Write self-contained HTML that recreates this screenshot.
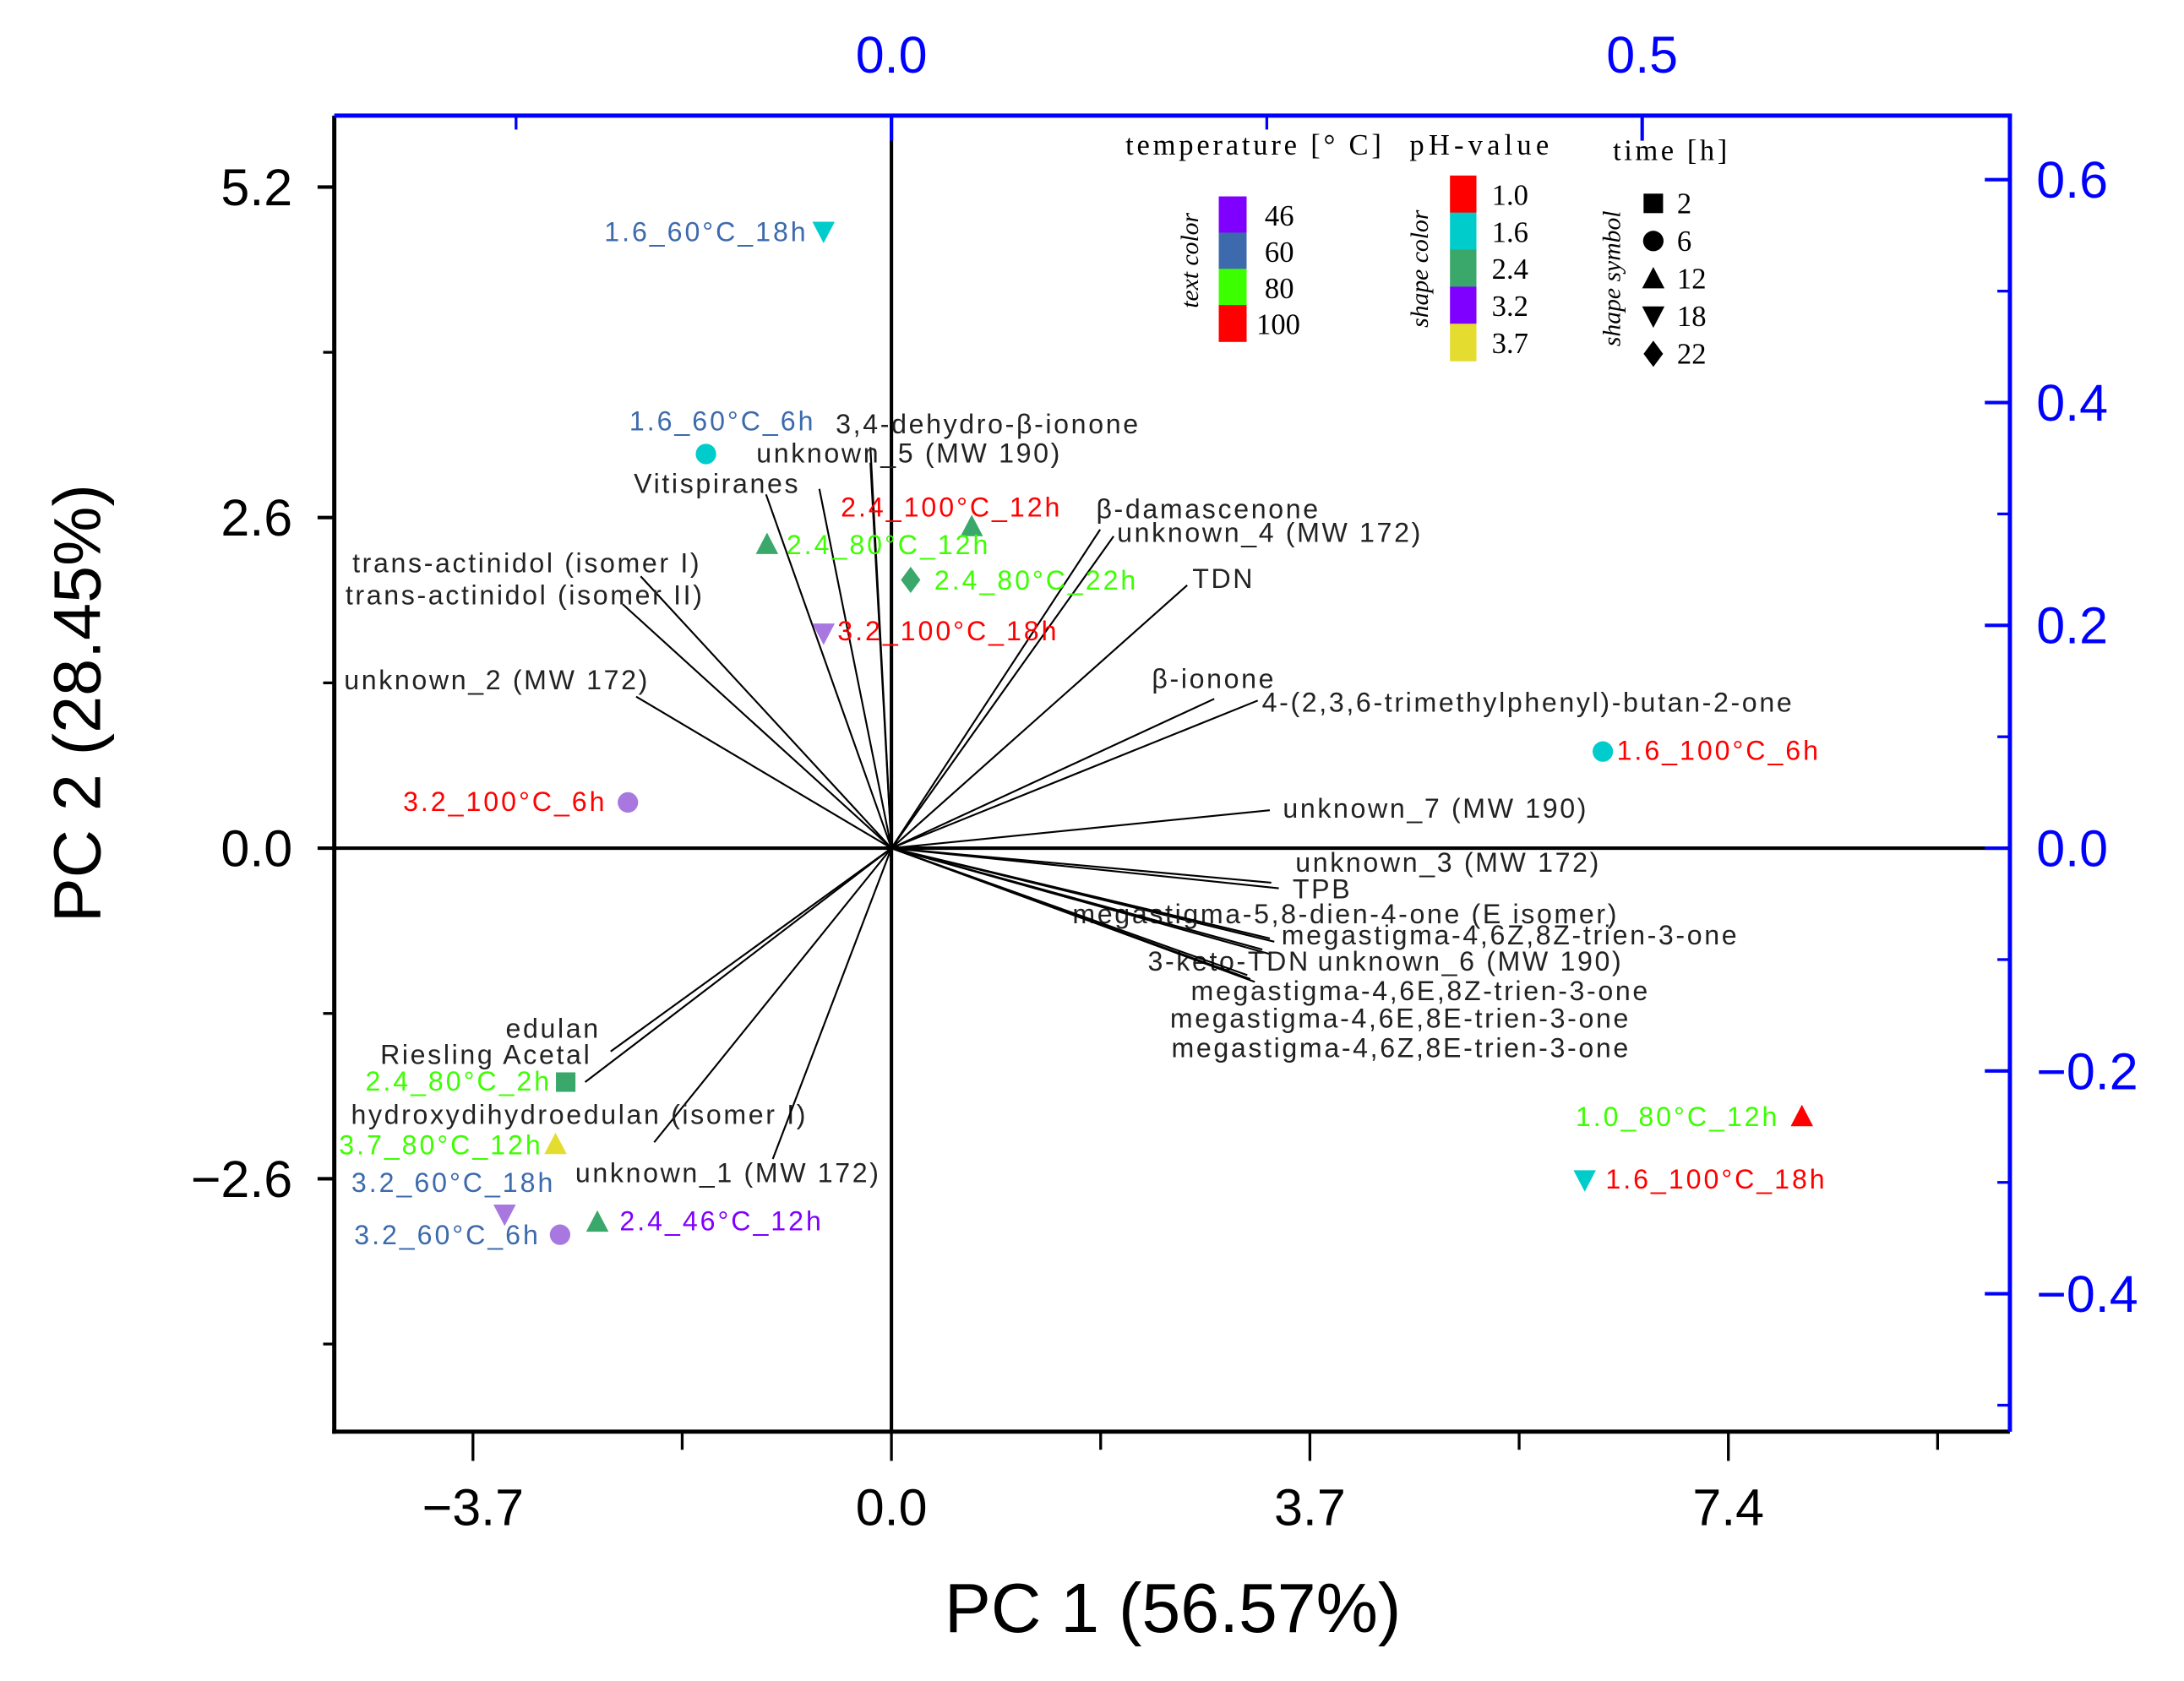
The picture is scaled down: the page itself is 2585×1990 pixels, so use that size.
<!DOCTYPE html>
<html><head><meta charset="utf-8"><style>
html,body{margin:0;padding:0;background:#fff;}
svg{display:block;}
text{font-family:"Liberation Sans",Arial,sans-serif;}
.ser{font-family:"Liberation Serif",serif;}
</style></head><body>
<svg id="chart" width="2585" height="1990" viewBox="0 0 1568 1207" xmlns="http://www.w3.org/2000/svg">
<rect x="0" y="0" width="1568" height="1207" fill="#fff"/>
<g id="grid"></g>
<g id="loads"></g>
<g id="scores"></g>
<g id="axes"></g>
<g id="legend">
  <text class="ser" x="808" y="111" font-size="21" letter-spacing="0.3" textLength="184">temperature [° C]</text>
  <text class="ser" x="1012" y="111" font-size="21" textLength="100">pH-value</text>
  <text class="ser" x="1158" y="115" font-size="21" textLength="82">time [h]</text>
  <text class="ser" transform="translate(860,187) rotate(-90)" text-anchor="middle" font-size="18" font-style="italic">text color</text>
  <text class="ser" transform="translate(1025,193) rotate(-90)" text-anchor="middle" font-size="18" font-style="italic">shape color</text>
  <text class="ser" transform="translate(1163,200) rotate(-90)" text-anchor="middle" font-size="18" font-style="italic">shape symbol</text>
</g>
</svg>
<script>
// ---- data ----
const scoreNames = ["1.6_60°C_18h","1.6_60°C_6h","2.4_100°C_12h","2.4_80°C_12h","2.4_80°C_22h","3.2_100°C_18h","1.6_100°C_6h","3.2_100°C_6h","2.4_80°C_2h","3.7_80°C_12h","1.0_80°C_12h","1.6_100°C_18h","3.2_60°C_18h","3.2_60°C_6h","2.4_46°C_12h"];
const scorePC1 = [-0.60,-1.64,0.71,-1.10,0.17,-0.60,6.29,-2.33,-2.88,-2.97,8.05,6.13,-3.42,-2.93,-2.60];
const scorePC2 = [4.85,3.10,2.53,2.39,2.11,1.69,0.76,0.36,-1.84,-2.33,-2.11,-2.61,-2.88,-3.04,-2.94];
const scorePH = [1.6,1.6,2.4,2.4,2.4,3.2,1.6,3.2,2.4,3.7,1.0,1.6,3.2,3.2,2.4];
const scoreTemp = [60,60,100,80,80,100,100,100,80,80,80,100,60,60,46];
const scoreTime = [18,6,12,12,22,18,6,6,2,12,12,18,18,6,12];

const loadNames = ["3,4-dehydro-β-ionone","unknown_5 (MW 190)","","Vitispiranes","trans-actinidol (isomer I)","trans-actinidol (isomer II)","unknown_2 (MW 172)","β-damascenone","unknown_4 (MW 172)","TDN","β-ionone","4-(2,3,6-trimethylphenyl)-butan-2-one","unknown_7 (MW 190)","unknown_3 (MW 172)","TPB","megastigma-5,8-dien-4-one (E isomer)","megastigma-4,6Z,8Z-trien-3-one","unknown_6 (MW 190)","3-keto-TDN","megastigma-4,6E,8Z-trien-3-one","megastigma-4,6E,8E-trien-3-one","megastigma-4,6Z,8E-trien-3-one","edulan","Riesling Acetal","hydroxydihydroedulan (isomer I)","unknown_1 (MW 172)"];
const loadPC1 = [-0.014,-0.014,-0.048,-0.0835,-0.167,-0.179,-0.170,0.139,0.148,0.197,0.215,0.244,0.252,0.253,0.258,0.255,0.252,0.252,0.247,0.242,0.237,0.239,-0.187,-0.204,-0.158,-0.079];
const loadPC2 = [0.36,0.346,0.3225,0.3175,0.244,0.219,0.136,0.286,0.280,0.236,0.134,0.1325,0.034,-0.031,-0.036,-0.084,-0.081,-0.095,-0.091,-0.12,-0.114,-0.1175,-0.1825,-0.21,-0.264,-0.279];

const xTicks = [-3.7,0.0,3.7,7.4];
const yTicks = [-2.6,0.0,2.6,5.2];
const topTicks = [0.0,0.5];
const rightTicks = [-0.4,-0.2,0.0,0.2,0.4,0.6];
const tempVals = [46,60,80,100];
const phVals = [1.0,1.6,2.4,3.2,3.7];
const timeVals = [2,6,12,18,22];

// ---- styles/layout ----
const tempColor = {46:"#8000ff",60:"#3d6aad",80:"#3cff00",100:"#ff0000"};
const phColor = {"1":"#ff0000","1.6":"#00cccc","2.4":"#3aa86a","3.2":"#a878e0","3.7":"#e5dc30"};
const phLegColor = {"1":"#ff0000","1.6":"#00cccc","2.4":"#3aa86a","3.2":"#8000ff","3.7":"#e5dc30"};
const timeShape = {2:"square",6:"circle",12:"tri",18:"itri",22:"diamond"};
// label offsets [dx,dy,anchor]
const scoreLab = [[-11,7,"end"],[-55,-17,"start"],[-94,-7,"start"],[14,7,"start"],[17,7,"start"],[10,5,"start"],[10,6,"start"],[-15,6,"end"],[-10,6,"end"],[-9,7,"end"],[-16,7,"end"],[15,6,"start"],[-110,-16,"start"],[-14,7,"end"],[16,6,"start"]];
const loadLab = [[600,311,"start"],[543,332,"start"],null,[455,354,"start"],[253,411,"start"],[248,434,"start"],[247,495,"start"],[787,372,"start"],[802,389,"start"],[856,422,"start"],[827,494,"start"],[906,511,"start"],[921,587,"start"],[930,626,"start"],[928,645,"start"],[770,663,"start"],[920,678,"start"],[946,697,"start"],[824,697,"start"],[855,718,"start"],[840,738,"start"],[841,759,"start"],[363,745,"start"],[273,764,"start"],[252,807,"start"],[413,849,"start"]];

const L=240,R=1443,T=83,B=1028;
const X0=640, Y0=609;
const sx = v => X0 + v*81.2;
const sy = v => Y0 - v*91.3;
const lx = v => X0 + v*1078;
const ly = v => Y0 - v*800;
const NS="http://www.w3.org/2000/svg";
function mk(tag, attrs, parent){const e=document.createElementNS(NS,tag);for(const k in attrs)e.setAttribute(k,attrs[k]);parent.appendChild(e);return e;}
const gAx=document.getElementById('axes'), gL=document.getElementById('loads'), gS=document.getElementById('scores'), gLeg=document.getElementById('legend'), gG=document.getElementById('grid');

let e=mk('line',{x1:L,x2:R,y1:Y0,y2:Y0,stroke:'#000','stroke-width':2.5},gG);


e=mk('line',{x1:X0,x2:X0,y1:T,y2:B,stroke:'#000','stroke-width':2.5},gG);



e=mk('line',{x1:L,x2:L,y1:T,y2:B+1.5,stroke:'#000','stroke-width':3},gAx);


e=mk('line',{x1:L-1.5,x2:R,y1:B,y2:B,stroke:'#000','stroke-width':3},gAx);


e=mk('line',{x1:L,x2:R+1.5,y1:T,y2:T,stroke:'#0000ff','stroke-width':3},gAx);


e=mk('line',{x1:R,x2:R,y1:T,y2:B,stroke:'#0000ff','stroke-width':3},gAx);



xTicks.forEach(v=>{
  const x=sx(v);
  let t=mk('line',{x1:x,x2:x,y1:B,y2:B+21,stroke:'#000','stroke-width':2},gAx);
  
  
  t=mk('text',{x:x,y:1095,'font-size':37,'text-anchor':'middle'},gAx);
  t.textContent=(v<0?'\u2212':'')+Math.abs(v).toFixed(1);
  
  
  const m=sx(v+1.85);
  if(m<R){t=mk('line',{x1:m,x2:m,y1:B,y2:B+13,stroke:'#000','stroke-width':2},gAx);
  
  }
});
yTicks.forEach(v=>{
  const y=sy(v);
  let t=mk('line',{x1:L-12,x2:L,y1:y,y2:y,stroke:'#000','stroke-width':2.5},gAx);
  
  
  t=mk('text',{x:210,y:y+13,'font-size':37,'text-anchor':'end'},gAx);
  t.textContent=(v<0?'\u2212':'')+Math.abs(v).toFixed(1);
  
  
  const m=sy(v-1.3);
  if(m<B){t=mk('line',{x1:L-8,x2:L,y1:m,y2:m,stroke:'#000','stroke-width':2},gAx);
  
  }
});
topTicks.forEach(v=>{
  const x=lx(v);
  let t=mk('line',{x1:x,x2:x,y1:T,y2:T+18,stroke:'#0000ff','stroke-width':2.5},gAx);
  
  
  t=mk('text',{x:x,y:52,'font-size':37,'text-anchor':'middle',fill:'#0000ff'},gAx);
  t.textContent=v.toFixed(1);
  
  
  const m=lx(v-0.25);
  if(m>L){t=mk('line',{x1:m,x2:m,y1:T,y2:T+10,stroke:'#0000ff','stroke-width':2},gAx);
  
  }
});
rightTicks.forEach(v=>{
  const y=ly(v);
  let t=mk('line',{x1:R-18,x2:R,y1:y,y2:y,stroke:'#0000ff','stroke-width':2.5},gAx);
  
  
  t=mk('text',{x:1462,y:y+13,'font-size':37,fill:'#0000ff'},gAx);
  t.textContent=(v<0?'\u2212':'')+Math.abs(v).toFixed(1);
  
  
  const m=ly(v-0.1);
  if(m<B){t=mk('line',{x1:R-9,x2:R,y1:m,y2:m,stroke:'#0000ff','stroke-width':2},gAx);
  
  }
});
e=mk('text',{x:842,y:1172,'font-size':50,'text-anchor':'middle'},gAx);
e.textContent='PC 1 (56.57%)';


e=mk('text',{transform:'translate(72,505) rotate(-90)','font-size':48,'text-anchor':'middle'},gAx);
e.textContent='PC 2 (28.45%)';



loadNames.forEach((n,i)=>{
  const ln=mk('line',{x1:X0,y1:Y0,x2:lx(loadPC1[i]),y2:ly(loadPC2[i]),stroke:'#000','stroke-width':1.3},gL);
  
  
  const p=loadLab[i];
  if(p&&n){
    const t=mk('text',{x:p[0],y:p[1],'font-size':19.5,'letter-spacing':1.6,'text-anchor':p[2],fill:'#222'},gL);
    t.textContent=n;
    
    
  }
});

function shape(kind,x,y,s,col,parent){
  let el;
  if(kind==='square') el=mk('rect',{x:x-s,y:y-s,width:2*s,height:2*s,fill:col},parent);
  else if(kind==='circle') el=mk('circle',{cx:x,cy:y,r:s*1.05,fill:col},parent);
  else if(kind==='tri') el=mk('polygon',{points:`${x},${y-s*1.2} ${x-s*1.15},${y+s} ${x+s*1.15},${y+s}`,fill:col},parent);
  else if(kind==='itri') el=mk('polygon',{points:`${x},${y+s*1.2} ${x-s*1.15},${y-s} ${x+s*1.15},${y-s}`,fill:col},parent);
  else el=mk('polygon',{points:`${x},${y-s*1.35} ${x-s},${y} ${x},${y+s*1.35} ${x+s},${y}`,fill:col},parent);
  return el;
}
scoreNames.forEach((n,i)=>{
  const x=sx(scorePC1[i]), y=sy(scorePC2[i]);
  const m=shape(timeShape[scoreTime[i]],x,y,7,phColor[String(scorePH[i])],gS);
  
  
  const o=scoreLab[i];
  const t=mk('text',{x:x+o[0],y:y+o[1],'font-size':19.5,'letter-spacing':1.8,'text-anchor':o[2],fill:tempColor[scoreTemp[i]]},gS);
  t.textContent=n;
  
  
});

tempVals.forEach((v,i)=>{
  const r=mk('rect',{x:875,y:141+i*26,width:20,height:26.5,fill:tempColor[v]},gLeg);
  
  
  const t=mk('text',{x:v>=100?902:908,y:162+i*26,'font-size':21,class:'ser'},gLeg);
  t.textContent=v;
  
  
});
phVals.forEach((v,i)=>{
  const r=mk('rect',{x:1041,y:126+i*26.6,width:19,height:27,fill:phLegColor[String(v)]},gLeg);
  
  
  const t=mk('text',{x:1071,y:147+i*26.6,'font-size':21,class:'ser'},gLeg);
  t.textContent=v.toFixed(1);
  
  
});
timeVals.forEach((v,i)=>{
  const y=146+i*27;
  const s=shape(timeShape[v],1187,y,7,'#000',gLeg);
  
  
  const t=mk('text',{x:1204,y:y+7,'font-size':21,class:'ser'},gLeg);
  t.textContent=v;
  
  
});
</script>
</body></html>
